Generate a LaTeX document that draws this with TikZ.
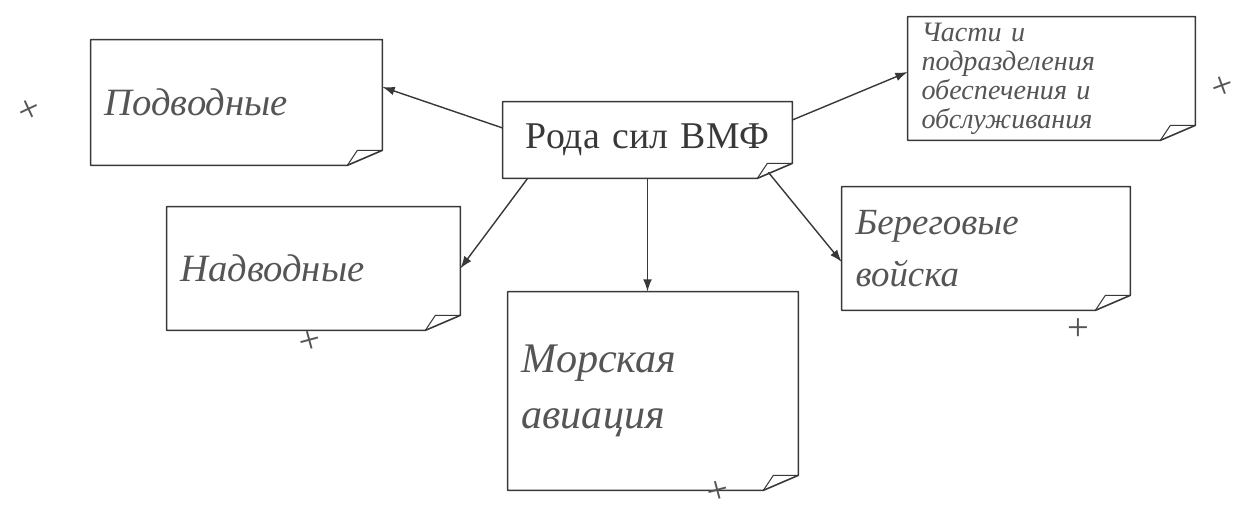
\documentclass[tikz,border=0pt]{standalone}
\usepackage{fontspec}
\setmainfont{Liberation Serif}
\usetikzlibrary{arrows.meta}
\definecolor{ink}{HTML}{383838}
\definecolor{pencil}{HTML}{555555}

\begin{document}
\begin{tikzpicture}[
        note/.style={inner xsep=0.27cm, inner ysep=0pt, align=left},
        hand/.style={font=\itshape\fontsize{22}{30}\selectfont, text=pencil},
        link/.style={draw=ink, line width=0.8pt, -{Latex[length=7pt,width=5pt]}},
        plusmark/.style={inner sep=0pt, font=\fontsize{22}{22}\selectfont, text=pencil}
    ]
    \useasboundingbox (0,0) rectangle (24.78,10.22);

    % centre
    \node[note, align=center, text width=5.24cm, minimum height=1.52cm,
          font=\fontsize{21.5}{26}\selectfont, text=ink] (roda) at (12.95,7.42) {Рода сил ВМФ};

    % notes
    \node[note, hand, text width=5.28cm, minimum height=2.5cm] (pod) at (4.73,8.17) {Подводные};
    \node[note, hand, text width=5.20cm, minimum height=2.46cm,
          font=\itshape\fontsize{16}{16.5}\selectfont] (chast) at (21.03,8.65)
          {Части и\\ подразделения\\ обеспечения и\\ обслуживания};
    \node[note, hand, text width=5.32cm, minimum height=2.46cm] (nad) at (6.27,4.85) {Надводные};
    \node[note, hand, text width=5.26cm, minimum height=3.96cm,
          font=\itshape\fontsize{24}{32}\selectfont] (mor) at (13.06,2.4) {Морская\\ авиация};
    \node[note, hand, text width=5.22cm, minimum height=2.46cm,
          font=\itshape\fontsize{21}{30}\selectfont] (ber) at (19.72,5.25) {Береговые\\ войска};

    % outlines with folded corner
    \foreach \n in {roda,pod,chast,nad,mor,ber}{
        \draw[ink, line width=0.9pt, line join=round] (\n.north west) -- (\n.north east)
            -- ([yshift=0.3cm]\n.south east) -- ([xshift=-0.7cm]\n.south east) -- (\n.south west) -- cycle;
        \draw[ink, line width=0.6pt, line join=round] ([xshift=-0.7cm]\n.south east)
            -- ([xshift=-0.5cm,yshift=0.3cm]\n.south east) -- ([yshift=0.3cm]\n.south east);
    }

    % arrows
    \draw[link] ([yshift=0.24cm]roda.west) -- ([yshift=0.31cm]pod.east);
    \draw[link] ([yshift=0.4cm]roda.east) -- ([yshift=0.13cm]chast.west);
    \draw[link] ([xshift=0.5cm]roda.south west) -- (nad.east);
    \draw[link] (roda.south) -- (roda.south |- mor.north);
    \draw[link] ([xshift=-0.48cm,yshift=0.12cm]roda.south east) -- ([yshift=-0.27cm]ber.west);

    % marks
    \node[plusmark, rotate=25] (plpod) at (0.6,8.0) {+};
    \node[plusmark, rotate=20] (plchast) at (24.45,8.46) {+};
    \node[plusmark, rotate=15] (plnad) at (6.2,3.38) {+};
    \node[plusmark, rotate=15] (plmor) at (14.36,0.38) {+};
    \node[plusmark] (plber) at (21.56,3.62) {+};
\end{tikzpicture}
\end{document}
